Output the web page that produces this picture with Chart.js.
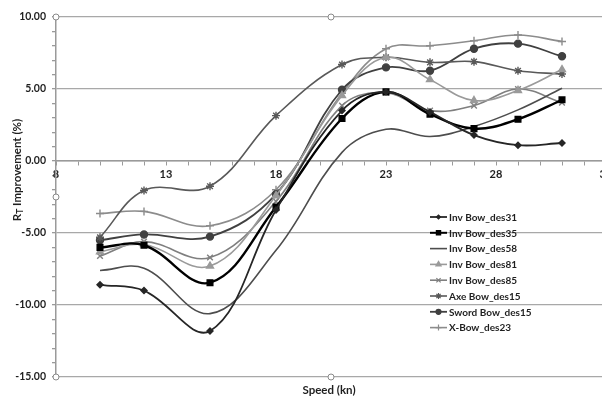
<!DOCTYPE html>
<html><head><meta charset="utf-8">
<script src="https://cdn.jsdelivr.net/npm/chart.js@4/dist/chart.umd.min.js"></script>
<style>
html,body{margin:0;padding:0;background:#fff;overflow:hidden;width:602px;height:398px}
#wrap{position:absolute;left:0;top:0;width:616px;height:398px}
</style></head><body><div id="wrap"><canvas id="c" width="616" height="398"></canvas></div>
<script>
const speeds = [10, 12, 15, 18, 21, 23, 25, 27, 29, 31];
const invBowDes31 = [-8.6, -9.0, -11.8, -3.4, 3.5, 4.8, 3.4, 1.8, 1.1, 1.25];
const invBowDes35 = [-6.0, -5.85, -8.45, -3.2, 2.95, 4.8, 3.25, 2.25, 2.9, 4.25];
const invBowDes58 = [-7.6, -7.45, -10.6, -6.2, 0.6, 2.2, 1.7, 2.4, 3.55, 5.05];
const invBowDes81 = [-6.3, -5.8, -7.3, -2.4, 4.55, 7.2, 5.65, 4.2, 4.9, 6.35];
const invBowDes85 = [-6.6, -5.6, -6.7, -2.8, 3.85, 4.75, 3.5, 3.85, 5.0, 4.05];
const axeBowDes15 = [-5.3, -2.05, -1.75, 3.15, 6.7, 7.2, 6.85, 6.9, 6.27, 6.04];
const swordBowDes15 = [-5.5, -5.1, -5.25, -2.3, 4.95, 6.5, 6.27, 7.8, 8.15, 7.27];
const xBowDes23 = [-3.65, -3.5, -4.5, -2.0, 4.7, 7.8, 8.0, 8.35, 8.75, 8.3];
const seriesNames = ['Inv Bow_des31','Inv Bow_des35','Inv Bow_des58','Inv Bow_des81','Inv Bow_des85','Axe Bow_des15','Sword Bow_des15','X-Bow_des23'];
const seriesValues = [invBowDes31, invBowDes35, invBowDes58, invBowDes81, invBowDes85, axeBowDes15, swordBowDes15, xBowDes23];
const xTicksMajor = [8, 13, 18, 23, 28, 33];
const yTicksMajor = [-15, -10, -5, 0, 5, 10];
const xTitle = 'Speed (kn)';
const yTitleMain = 'R', yTitleSub = 'T', yTitleRest = ' Improvement (%)';

const styles = [
  {c:'#262626', w:1.8, p:'rectRot', r:3},
  {c:'#000000', w:2.4, p:'rect', r:4},
  {c:'#4d4d4d', w:1.6, p:false, r:0},
  {c:'#9a9a9a', w:1.6, p:'triangle', r:4},
  {c:'#7f7f7f', w:1.6, p:'crossRot', r:4},
  {c:'#595959', w:1.6, p:'star', r:4},
  {c:'#404040', w:1.8, p:'circle', r:3.5},
  {c:'#8c8c8c', w:1.6, p:'cross', r:4}
];

const datasets = seriesNames.map((name, i) => ({
  label: name,
  data: speeds.map((x, j) => ({x: x, y: seriesValues[i][j]})),
  borderColor: styles[i].c,
  backgroundColor: styles[i].c,
  borderWidth: styles[i].w,
  pointStyle: styles[i].p || 'circle',
  pointRadius: styles[i].r,
  pointBorderWidth: 1.4,
  pointBorderColor: styles[i].c,
  pointBackgroundColor: styles[i].c,
  tension: 0.38,
  fill: false
}));

const FONT = 'Lato, "Open Sans", sans-serif';
const axisGray = '#9a9a9a';
const textColor = '#1f1f1f';

const handles = {
  id: 'handles',
  afterDraw(chart) {
    const a = chart.chartArea, ctx = chart.ctx;
    const mx = (a.left + a.right) / 2, my = (a.top + a.bottom) / 2;
    const pts = [[a.left,a.top],[mx,a.top],[a.left,my],[a.left,a.bottom],[mx,a.bottom]];
    ctx.save();
    ctx.strokeStyle = '#8a8a8a'; ctx.fillStyle = '#fff'; ctx.lineWidth = 1;
    pts.forEach(p => { ctx.beginPath(); ctx.arc(p[0], p[1], 3, 0, Math.PI*2); ctx.fill(); ctx.stroke(); });
    ctx.restore();
  }
};

const titles = {
  id: 'titles',
  afterDraw(chart) {
    const a = chart.chartArea, ctx = chart.ctx;
    ctx.save();
    ctx.fillStyle = textColor;
    ctx.font = 'bold 11.5px ' + FONT;
    ctx.textAlign = 'center'; ctx.textBaseline = 'middle';
    ctx.fillText(xTitle, (a.left + a.right) / 2 - 2, 390);
    ctx.translate(17, (a.top + a.bottom) / 2 - 27);
    ctx.rotate(-Math.PI / 2);
    ctx.textAlign = 'left';
    const fMain = 'bold 11.5px ' + FONT, fSub = 'bold 8.5px ' + FONT;
    ctx.font = fMain; const w1 = ctx.measureText(yTitleMain).width; const w3 = ctx.measureText(yTitleRest).width;
    ctx.font = fSub; const w2 = ctx.measureText(yTitleSub).width;
    let x = -(w1 + w2 + w3) / 2;
    ctx.font = fMain; ctx.fillText(yTitleMain, x, 0); x += w1;
    ctx.font = fSub; ctx.fillText(yTitleSub, x, 3); x += w2;
    ctx.font = fMain; ctx.fillText(yTitleRest, x, 0);
    ctx.restore();
  }
};

const legendPlugin = {
  id: 'customLegend',
  afterDraw(chart) {
    const ctx = chart.ctx;
    ctx.save();
    ctx.font = 'bold 10px ' + FONT;
    ctx.textBaseline = 'middle'; ctx.textAlign = 'left';
    chart.data.datasets.forEach((ds, i) => {
      const y = 217 + i * 15.8;
      ctx.strokeStyle = ds.borderColor; ctx.fillStyle = ds.borderColor;
      ctx.lineWidth = Math.min(ds.borderWidth, 2);
      ctx.beginPath(); ctx.moveTo(430, y); ctx.lineTo(447, y); ctx.stroke();
      if (ds.pointRadius > 0) {
        ctx.lineWidth = 1.2;
        Chart.helpers.drawPoint(ctx, {pointStyle: ds.pointStyle, radius: Math.max(ds.pointRadius - 1, 2), rotation: 0, borderWidth: 1.2}, 438.5, y);
      }
      ctx.fillStyle = textColor;
      ctx.fillText(ds.label, 449, y + 0.5);
    });
    ctx.restore();
  }
};

new Chart(document.getElementById('c'), {
  type: 'line',
  data: { datasets: datasets },
  options: {
    responsive: false,
    animation: false,
    layout: { padding: { left: 0, right: 10, top: 17, bottom: 21 } },
    plugins: { legend: { display: false }, tooltip: { enabled: false } },
    scales: {
      x: {
        type: 'linear', min: 8, max: 33,
        position: { y: 0 },
        ticks: {
          stepSize: 1, autoSkip: false, maxRotation: 0, padding: 3,
          callback: v => xTicksMajor.includes(v) ? String(v) : '',
          font: { family: FONT, size: 11, weight: 'bold' }, color: textColor
        },
        grid: { drawOnChartArea: false, drawTicks: true, tickLength: 4, color: axisGray, lineWidth: 1 },
        border: { color: axisGray, width: 1.5 }
      },
      y: {
        type: 'linear', min: -15, max: 10,
        ticks: {
          stepSize: 1, autoSkip: false, padding: 6,
          callback: v => yTicksMajor.includes(v) ? v.toFixed(2) : '',
          font: { family: FONT, size: 10.5, weight: 'bold' }, color: textColor
        },
        grid: {
          color: ctx => (ctx.tick && yTicksMajor.includes(ctx.tick.value)) ? '#a8a8a8' : 'rgba(0,0,0,0)',
          tickColor: axisGray, tickLength: 4, lineWidth: 1.3
        },
        border: { color: axisGray, width: 1.5 },
        afterFit: s => { s.width = 56; }
      }
    }
  },
  plugins: [handles, titles, legendPlugin]
});
</script></body></html>
